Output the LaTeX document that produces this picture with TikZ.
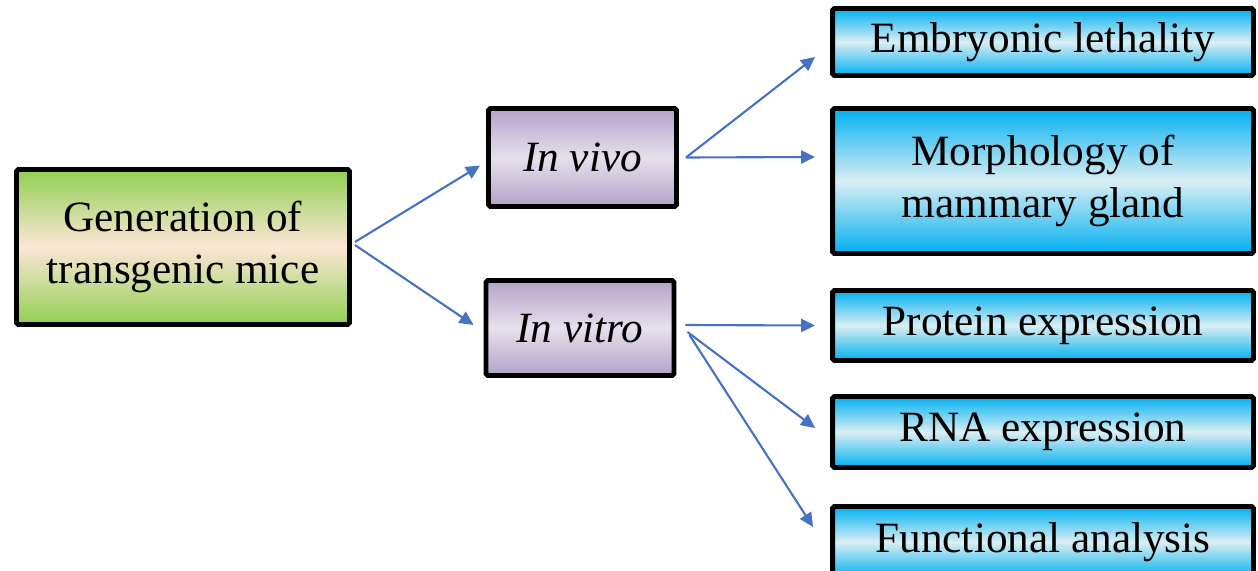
\documentclass[tikz,border=0pt]{standalone}
\usepackage{fontspec}
\setmainfont{Liberation Serif}
\usetikzlibrary{arrows.meta, calc}
\definecolor{arrowblue}{HTML}{4472C4}
\definecolor{leafgreen}{HTML}{92D050}
\definecolor{peach}{HTML}{FBE5D6}
\definecolor{lilac}{HTML}{B3A2C7}
\definecolor{lilaclight}{HTML}{E6E0EC}
\definecolor{cyanedge}{HTML}{00B0F0}
\definecolor{cyanlight}{HTML}{DAEEF3}

\begin{document}
\begin{tikzpicture}[x=0.02cm, y=-0.02cm,
                    every node/.style={font=\fontsize{24.6}{30}\selectfont, align=center},
                    box/.style={draw=black, line width=2.8pt, rounded corners=1pt, inner sep=2pt},
                    genbox/.style={box, top color=leafgreen, bottom color=leafgreen, middle color=peach,
                                   minimum width=6.66cm, minimum height=3.1cm},
                    modebox/.style={box, top color=lilac, bottom color=lilac, middle color=lilaclight,
                                    minimum width=3.76cm},
                    readbox/.style={box, top color=cyanedge, bottom color=cyanedge, middle color=cyanlight,
                                    minimum width=8.42cm},
                    link/.style={arrowblue, line width=1.2pt, -{Triangle[length=8pt, width=7.5pt]}}]

  %% fixe Bildgröße
  \useasboundingbox (0,0) rectangle (1258,571);

  %% Ausgangspunkt
  \node[genbox] (gen) at (183,247) {Generation of\\transgenic mice};

  %% zwei Versuchsebenen
  \node[modebox, minimum height=1.96cm] (vivo) at (582.5,157.5) {\itshape In vivo};
  \node[modebox, minimum height=1.9cm] (vitro) at (580,328) {\itshape In vitro};

  %% Auswertungen
  \node[readbox, minimum height=1.34cm] (lethal) at (1043,42) {Embryonic lethality};
  \node[readbox, minimum height=2.9cm] (morph) at (1043,181) {Morphology of\\mammary gland};
  \node[readbox, minimum height=1.4cm] (protein) at (1043,325.5) {Protein expression};
  \node[readbox, minimum height=1.42cm] (rna) at (1043,432) {RNA expression};
  \node[readbox, minimum height=1.42cm] (func) at (1043,542) {Functional analysis};

  %% Pfeile vom Ausgangspunkt
  \draw[link] ($(gen.east)+(3,-5)$) -- ($(vivo.west)+(-6,8)$);
  \draw[link] ($(gen.east)+(3,-2)$) -- ($(vitro.west)+(-10,-3)$);

  %% Pfeile in vivo
  \draw[link] ($(vivo.east)+(7,0)$) -- ($(lethal.west)+(-15,15)$);
  \draw[link] ($(vivo.east)+(7,0)$) -- ($(morph.west)+(-15,-24)$);

  %% Pfeile in vitro
  \draw[link] ($(vitro.east)+(9,-3)$) -- ($(protein.west)+(-15,0)$);
  \draw[link] ($(vitro.east)+(11,4)$) -- ($(rna.west)+(-15,-4)$);
  \draw[link] ($(vitro.east)+(13,7)$) -- ($(func.west)+(-17,-15)$);

\end{tikzpicture}
\end{document}
